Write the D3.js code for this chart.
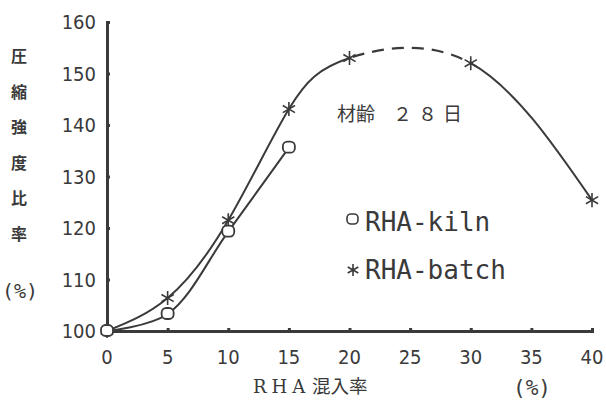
<!DOCTYPE html>
<html>
<head>
<meta charset="utf-8">
<script src="https://cdn.jsdelivr.net/npm/d3@7"></script>
<style>
  body { margin: 0; background: #fff; }
  svg { display: block; }
</style>
</head>
<body>
<svg id="viz" width="606" height="400"></svg>
<script>
// data
let kilnX = [0, 5, 10, 15];
let kilnY = [100, 103.3, 119.3, 135.6];
let batchX = [0, 5, 10, 15, 20, 30, 40];
let batchY = [100, 106.4, 121.5, 143.1, 153, 152, 125.4];
let xTicks = [0, 5, 10, 15, 20, 25, 30, 35, 40];
let yTicks = [100, 110, 120, 130, 140, 150, 160];
let yTitle = ["圧", "縮", "強", "度", "比", "率"];

let ink = "#3a3a3a";
let numFont = "'Liberation Sans Narrow', 'DejaVu Sans Condensed', sans-serif";
let monoFont = "'DejaVu Sans Mono', 'Liberation Mono', monospace";
let serifFont = "'DejaVu Serif', 'Liberation Serif', serif";
let cjkFont = "'Noto Sans CJK JP', sans-serif";

let svg = d3.select("#viz");

let xScale = d3.scaleLinear().domain([0, 40]).range([107, 592]);
let yScale = d3.scaleLinear().domain([100, 160]).range([331, 22]);

// axes
let yAxis = svg.append("g")
  .attr("transform", `translate(${xScale(0)},0)`)
  .call(d3.axisRight(yScale).tickValues(yTicks).tickSize(3).tickFormat(""));
let xAxis = svg.append("g")
  .attr("transform", `translate(0,${yScale(100)})`)
  .call(d3.axisTop(xScale).tickValues(xTicks).tickSize(3).tickFormat(""));
[xAxis, yAxis].forEach(a => {
  a.select(".domain").attr("stroke", ink).attr("stroke-width", 3);
  a.selectAll(".tick line").attr("stroke", ink).attr("stroke-width", 3);
});

// tick labels
svg.append("g").selectAll("text").data(yTicks).enter().append("text")
  .attr("x", 96).attr("y", d => yScale(d) + 7)
  .attr("text-anchor", "end")
  .attr("font-family", numFont).attr("font-size", 20).attr("fill", ink)
  .text(d => d);
svg.append("g").selectAll("text").data(xTicks).enter().append("text")
  .attr("x", d => xScale(d)).attr("y", 364)
  .attr("text-anchor", "middle")
  .attr("font-family", numFont).attr("font-size", 20).attr("fill", ink)
  .text(d => d);

// y title (vertical)
svg.append("g").selectAll("text").data(yTitle).enter().append("text")
  .attr("x", 19).attr("y", (d, i) => 62 + i * 35.5)
  .attr("text-anchor", "middle")
  .attr("font-family", cjkFont).attr("font-size", 16).attr("font-weight", 700)
  .attr("fill", ink)
  .text(d => d);
svg.append("text").attr("x", 20).attr("y", 298)
  .attr("text-anchor", "middle")
  .attr("font-family", monoFont).attr("font-size", 20).attr("fill", ink)
  .text("(%)");

// x title
svg.append("text").attr("x", 253).attr("y", 393)
  .attr("font-family", serifFont).attr("font-size", 18).attr("fill", ink)
  .attr("letter-spacing", 5)
  .text("RHA");
svg.append("text").attr("x", 312).attr("y", 393)
  .attr("font-family", cjkFont).attr("font-size", 18.5).attr("fill", ink)
  .text("混入率");
svg.append("text").attr("x", 532).attr("y", 395)
  .attr("text-anchor", "middle")
  .attr("font-family", monoFont).attr("font-size", 21).attr("fill", ink)
  .text("(%)");

// annotation
svg.append("text").attr("x", 337).attr("y", 121)
  .attr("font-family", cjkFont).attr("font-size", 19).attr("fill", ink)
  .text("材齢");
svg.append("text").attr("x", 393).attr("y", 121)
  .attr("font-family", cjkFont).attr("font-size", 19).attr("fill", ink)
  .attr("letter-spacing", 6)
  .text("２８日");

// curves
let batchLine = d3.line().x(d => xScale(d[0])).y(d => yScale(d[1])).curve(d3.curveNatural);
let kilnLine = d3.line().x(d => xScale(d[0])).y(d => yScale(d[1])).curve(d3.curveCatmullRom.alpha(0.5));
let kiln = kilnX.map((x, i) => [x, kilnY[i]]);
let batch = batchX.map((x, i) => [x, batchY[i]]);

let defs = svg.append("defs");
defs.append("clipPath").attr("id", "solidClip").selectAll("rect")
  .data([[0, 20], [30, 40]]).enter().append("rect")
  .attr("x", d => xScale(d[0]) - (d[0] === 0 ? 5 : 0)).attr("y", 0)
  .attr("width", d => xScale(d[1]) - xScale(d[0]) + 5).attr("height", 400);
defs.append("clipPath").attr("id", "dashClip").append("rect")
  .attr("x", xScale(20)).attr("y", 0)
  .attr("width", xScale(30) - xScale(20)).attr("height", 400);

svg.append("path").datum(batch).attr("d", batchLine)
  .attr("fill", "none").attr("stroke", ink).attr("stroke-width", 2)
  .attr("clip-path", "url(#solidClip)");
svg.append("path").datum(batch).attr("d", batchLine)
  .attr("fill", "none").attr("stroke", ink).attr("stroke-width", 2.2)
  .attr("stroke-dasharray", "12,8")
  .attr("clip-path", "url(#dashClip)");
svg.append("path").datum(kiln).attr("d", kilnLine)
  .attr("fill", "none").attr("stroke", ink).attr("stroke-width", 2);

// markers
let starSym = {
  draw(ctx, size) {
    let r = Math.sqrt(size) / 2;
    for (let k = 0; k < 3; k++) {
      let a = Math.PI / 2 + k * Math.PI / 3;
      ctx.moveTo(r * Math.cos(a), r * Math.sin(a));
      ctx.lineTo(-r * Math.cos(a), -r * Math.sin(a));
    }
  }
};
let star = d3.symbol().type(starSym).size(200);

svg.append("g").selectAll("path").data(batch).enter().append("path")
  .attr("d", star)
  .attr("transform", d => `translate(${xScale(d[0])},${yScale(d[1])})`)
  .attr("fill", "none").attr("stroke", ink).attr("stroke-width", 1.6);
svg.append("g").selectAll("rect").data(kiln).enter().append("rect")
  .attr("x", d => xScale(d[0]) - 6).attr("y", d => yScale(d[1]) - 6)
  .attr("width", 12).attr("height", 11).attr("rx", 4.5)
  .attr("fill", "#fff").attr("stroke", ink).attr("stroke-width", 1.8);

// legend
svg.append("rect").attr("x", 347).attr("y", 214).attr("width", 11).attr("height", 10).attr("rx", 4)
  .attr("fill", "#fff").attr("stroke", ink).attr("stroke-width", 1.6);
svg.append("text").attr("x", 365).attr("y", 231)
  .attr("font-family", monoFont).attr("font-size", 26).attr("fill", ink)
  .text("RHA-kiln");
svg.append("path").attr("d", d3.symbol().type(starSym).size(150))
  .attr("transform", "translate(353,270)")
  .attr("fill", "none").attr("stroke", ink).attr("stroke-width", 1.6);
svg.append("text").attr("x", 365).attr("y", 279)
  .attr("font-family", monoFont).attr("font-size", 26).attr("fill", ink)
  .text("RHA-batch");
</script>
</body>
</html>
